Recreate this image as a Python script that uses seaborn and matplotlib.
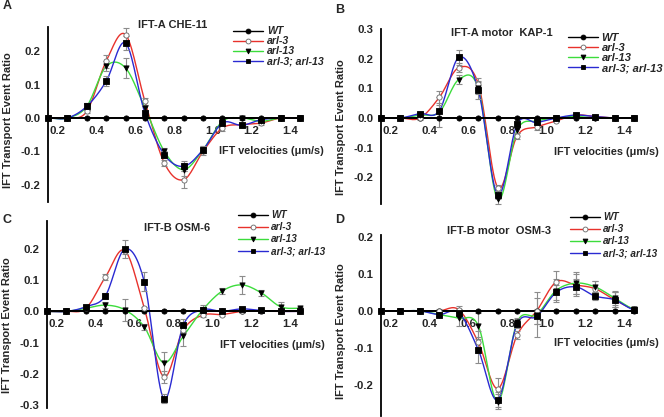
import numpy as np
import pandas as pd
import matplotlib
matplotlib.use("Agg")
import matplotlib.pyplot as plt
from matplotlib.lines import Line2D
import seaborn as sns

# velocity bins (um/s)
vel = [0.15, 0.25, 0.35, 0.45, 0.55, 0.65, 0.75, 0.85, 0.95, 1.05, 1.15, 1.25, 1.35, 1.45]
wt = [0.0] * 14

# A: IFT-A CHE-11
a_arl3 = [0, 0, 0.02, 0.17, 0.25, 0.05, -0.135, -0.185, -0.10, -0.03, -0.02, -0.015, 0, 0]
a_arl3_err = [0, 0, 0.005, 0.02, 0.02, 0.01, 0.01, 0.025, 0.01, 0.01, 0.005, 0.005, 0, 0]
a_arl13 = [0, 0, 0.035, 0.155, 0.15, 0.03, -0.10, -0.155, -0.095, -0.01, 0.0, -0.01, 0, 0]
a_arl13_err = [0, 0, 0.01, 0.015, 0.03, 0.01, 0.01, 0.02, 0.01, 0.005, 0.005, 0.005, 0, 0]
a_dbl = [0, 0, 0.035, 0.11, 0.225, 0.015, -0.11, -0.145, -0.095, -0.015, -0.022, -0.005, 0, 0]
a_dbl_err = [0, 0, 0.01, 0.015, 0.02, 0.01, 0.01, 0.015, 0.01, 0.005, 0.005, 0.005, 0, 0]

# B: IFT-A motor KAP-1
b_arl3 = [0, 0, 0.0, 0.07, 0.17, 0.115, -0.235, -0.06, -0.03, -0.01, 0.01, 0.005, 0, 0]
b_arl3_err = [0, 0, 0.005, 0.02, 0.015, 0.02, 0.01, 0.01, 0.01, 0.005, 0.005, 0, 0, 0]
b_arl13 = [0, 0, 0.01, 0.02, 0.13, 0.10, -0.275, -0.04, -0.01, 0.0, 0.005, 0, 0, 0]
b_arl13_err = [0, 0, 0.005, 0.05, 0.015, 0.02, 0.015, 0.01, 0.01, 0.005, 0.005, 0, 0, 0]
b_dbl = [0, 0, 0.015, 0.025, 0.205, 0.095, -0.26, -0.02, -0.015, 0.0, 0.01, 0.005, 0, 0]
b_dbl_err = [0, 0, 0.005, 0.02, 0.025, 0.03, 0.015, 0.01, 0.01, 0.005, 0.005, 0, 0, 0]

# C: IFT-B OSM-6
c_arl3 = [0, 0, 0.01, 0.11, 0.195, 0.01, -0.21, -0.06, -0.012, -0.01, 0.0, 0, 0, 0]
c_arl3_err = [0, 0, 0.005, 0.01, 0.01, 0.005, 0.02, 0.01, 0.005, 0.005, 0.005, 0, 0, 0]
c_arl13 = [0, 0, 0.01, 0.02, 0.005, -0.05, -0.165, -0.08, 0.005, 0.065, 0.085, 0.06, 0.015, 0.01]
c_arl13_err = [0, 0, 0.005, 0.01, 0.035, 0.01, 0.035, 0.03, 0.015, 0.01, 0.03, 0.01, 0.015, 0.005]
c_dbl = [0, 0, 0.015, 0.05, 0.2, 0.095, -0.28, -0.045, 0.005, 0.0, 0.008, 0.003, 0, 0]
c_dbl_err = [0, 0, 0.005, 0.01, 0.03, 0.03, 0.015, 0.02, 0.01, 0.005, 0.005, 0, 0, 0]

# D: IFT-B motor OSM-3
d_arl3 = [0, 0, 0, 0.0, 0.003, -0.085, -0.21, -0.065, 0.0, 0.078, 0.07, 0.06, 0.03, 0.005]
d_arl3_err = [0, 0, 0, 0.005, 0.01, 0.03, 0.03, 0.01, 0.035, 0.03, 0.03, 0.02, 0.02, 0.005]
d_arl13 = [0, 0, 0, -0.01, -0.02, -0.04, -0.245, -0.03, -0.01, 0.055, 0.075, 0.065, 0.035, 0.005]
d_arl13_err = [0, 0, 0, 0.005, 0.02, 0.035, 0.02, 0.01, 0.06, 0.03, 0.03, 0.015, 0.02, 0.005]
d_dbl = [0, 0, 0, -0.01, -0.005, -0.105, -0.24, -0.035, -0.015, 0.05, 0.065, 0.04, 0.03, 0.003]
d_dbl_err = [0, 0, 0, 0.005, 0.01, 0.035, 0.02, 0.01, 0.02, 0.02, 0.02, 0.01, 0.02, 0.005]

names = ["WT", "arl-3", "arl-13", "arl-3; arl-13"]
line_colors = ["black", "#e8322c", "#3cdc3c", "#2a2ad2"]
mk = ["o", "o", "v", "s"]
mk_face = ["black", "white", "black", "black"]
mk_edge = ["black", "#666666", "black", "black"]


def smooth(x, y, n=16):
    # catmull-rom, like a smoothed excel line
    x = np.asarray(x, float)
    y = np.asarray(y, float)
    yp = np.concatenate([[y[0]], y, [y[-1]]])
    xs, ys = [], []
    t = np.linspace(0, 1, n, endpoint=False)
    for i in range(len(x) - 1):
        p0, p1, p2, p3 = yp[i], yp[i + 1], yp[i + 2], yp[i + 3]
        seg = 0.5 * (2 * p1 + (-p0 + p2) * t + (2 * p0 - 5 * p1 + 4 * p2 - p3) * t ** 2
                     + (-p0 + 3 * p1 - 3 * p2 + p3) * t ** 3)
        xs.extend(x[i] + (x[i + 1] - x[i]) * t)
        ys.extend(seg)
    xs.append(x[-1])
    ys.append(y[-1])
    return np.array(xs), np.array(ys)


sns.set_style("white")
plt.rcParams["font.family"] = ["Liberation Sans", "DejaVu Sans"]
plt.rcParams["font.weight"] = "bold"

fig = plt.figure(figsize=(6.64, 4.17), dpi=100)

# title pos, legend anchor, legend font size, legend spacing, xlabel y, ylabel y
panels = [
    ("IFT-A CHE-11", [0.0723, 0.5156, 0.3795, 0.4197], (-0.252, 0.273), [-0.2, -0.1, 0, 0.1, 0.2],
     [(a_arl3, a_arl3_err), (a_arl13, a_arl13_err), (a_dbl, a_dbl_err)],
     (0.26, 0.94), (0.351, 0.937), 7.6, 0.0, -0.10, 0.47),
    ("IFT-A motor  KAP-1", [0.5738, 0.511, 0.381, 0.419], (-0.29, 0.30), [-0.2, -0.1, 0, 0.1, 0.2, 0.3],
     [(b_arl3, b_arl3_err), (b_arl13, b_arl13_err), (b_dbl, b_dbl_err)],
     (0.756, 0.921), (0.855, 0.92), 8.0, 0.0, -0.115, 0.44),
    ("IFT-B OSM-6", [0.0708, 0.0216, 0.381, 0.4484], (-0.31, 0.29), [-0.3, -0.2, -0.1, 0, 0.1, 0.2],
     [(c_arl3, c_arl3_err), (c_arl13, c_arl13_err), (c_dbl, c_dbl_err)],
     (0.2666, 0.453), (0.358, 0.496), 7.2, 0.2, -0.107, 0.444),
    ("IFT-B motor  OSM-3", [0.5738, 0.0024, 0.381, 0.434], (-0.284, 0.205), [-0.2, -0.1, 0, 0.1, 0.2],
     [(d_arl3, d_arl3_err), (d_arl13, d_arl13_err), (d_dbl, d_dbl_err)],
     (0.7515, 0.446), (0.858, 0.491), 7.2, 0.2, -0.087, 0.47),
]

for title, rect, ylim, yticks, series, tpos, lpos, lsize, lspace, xlab_y, ylab_y in panels:
    ax = fig.add_axes(rect)
    ax.patch.set_alpha(0)
    allseries = [(wt, None)] + series
    for k in [1, 2, 3]:
        y, err = allseries[k]
        sx, sy = smooth(vel, y)
        sns.lineplot(x=sx, y=sy, color=line_colors[k], lw=1.0, ax=ax, legend=False,
                     estimator=None, sort=False, zorder=2)
        ax.errorbar(vel, y, yerr=err, fmt="none", ecolor="#8c8c8c", elinewidth=0.8,
                    capsize=2.2, capthick=0.8, zorder=3, clip_on=False)
    sns.lineplot(x=vel, y=wt, color="black", lw=1.3, ax=ax, legend=False, zorder=4)
    for k in range(4):
        y = allseries[k][0]
        sns.scatterplot(x=vel, y=y, marker=mk[k], s=14, color=mk_face[k], edgecolor=mk_edge[k],
                        linewidth=0.6, ax=ax, zorder=5, clip_on=False, legend=False)

    ax.set_xlim(0.15, 1.45)
    ax.set_ylim(*ylim)
    ax.set_yticks(yticks)
    ax.set_yticklabels([f"{v:.1f}" for v in yticks])
    xt = [0.2, 0.4, 0.6, 0.8, 1.0, 1.2, 1.4]
    ax.set_xticks(xt)
    ax.set_xticklabels([f"{v:.1f}" for v in xt])
    ax.tick_params(axis="both", length=0, labelsize=8.2)
    ax.tick_params(axis="x", pad=5.5)
    ax.tick_params(axis="y", pad=5.5)
    for s in ["top", "right"]:
        ax.spines[s].set_visible(False)
    ax.spines["bottom"].set_position(("data", 0))
    ax.spines["left"].set_linewidth(1.3)
    ax.spines["bottom"].set_linewidth(1.3)
    ax.spines["left"].set_color("black")
    ax.spines["bottom"].set_color("black")
    ax.set_xlabel("")
    ax.set_ylabel("IFT Transport Event Ratio", fontsize=8, fontweight="bold")
    ax.yaxis.set_label_coords(-0.14, ylab_y)
    ax.text(1.575, xlab_y, "IFT velocities (\u03bcm/s)", fontsize=7.8, fontweight="bold",
            ha="right", va="center")

    fig.text(tpos[0], tpos[1], title, fontsize=8, fontweight="bold", ha="center", va="center")

    handles = [Line2D([0], [0], color=line_colors[k], lw=1.0, marker=mk[k], markersize=3.5,
                      markerfacecolor=mk_face[k], markeredgecolor=mk_edge[k], markeredgewidth=0.6)
               for k in range(4)]
    ax.legend(handles, names, loc="upper left", bbox_to_anchor=lpos, bbox_transform=fig.transFigure,
              frameon=False, borderpad=0, borderaxespad=0, handlelength=30 / (lsize * 1.389),
              handletextpad=0.35, labelspacing=lspace,
              prop={"size": lsize, "style": "italic", "weight": "bold"})

letters = [("A", 0.004, 0.985), ("B", 0.504, 0.975), ("C", 0.004, 0.472), ("D", 0.504, 0.472)]
for t, x, y in letters:
    fig.text(x, y, t, fontsize=9, fontweight="bold", ha="left", va="center")

fig.savefig("out.png", dpi=100)
